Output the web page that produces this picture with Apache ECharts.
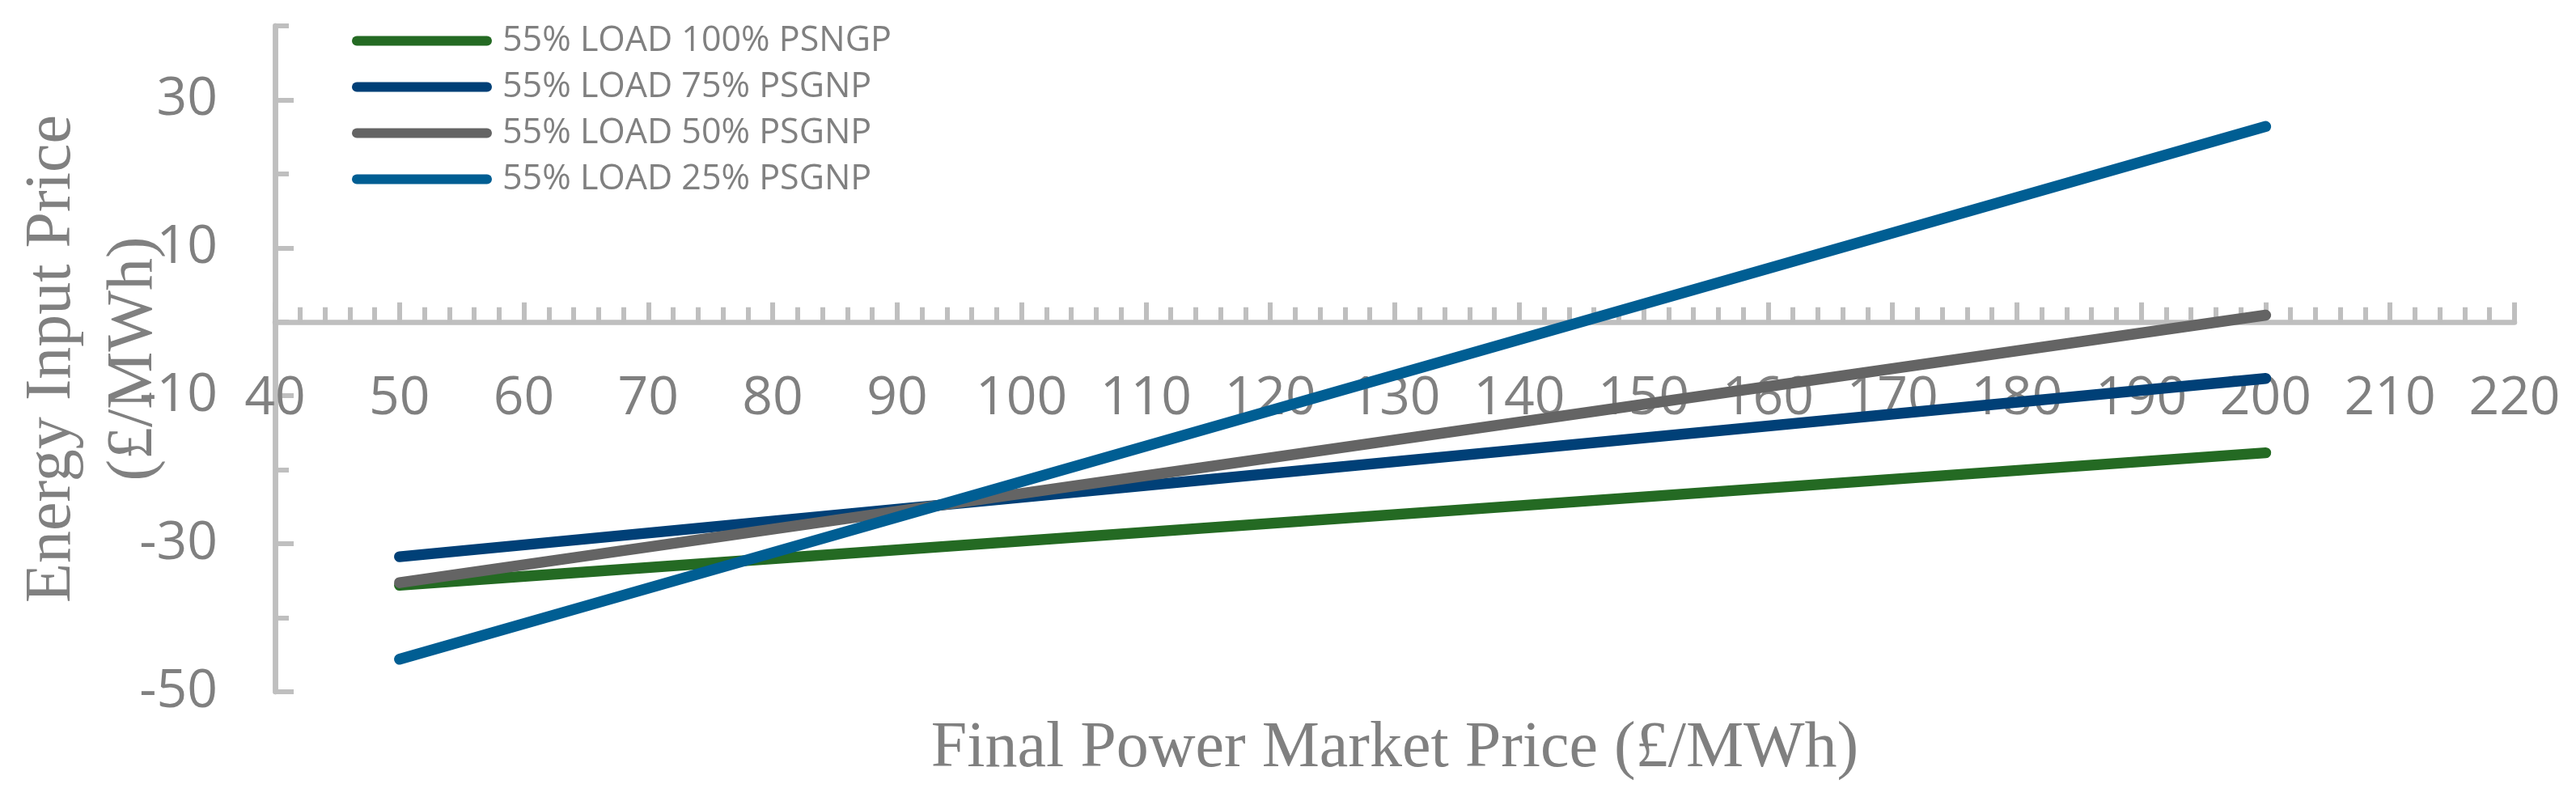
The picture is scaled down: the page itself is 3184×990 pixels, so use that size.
<!DOCTYPE html>
<html>
<head>
<meta charset="utf-8">
<script src="https://cdn.jsdelivr.net/npm/echarts@6/dist/echarts.min.js"></script>
<style>
html,body{margin:0;padding:0;background:#fff;}
#chart{width:3184px;height:990px;}
</style>
</head>
<body>
<div id="chart"></div>
<script>
// Data
const xValues = [50, 200];
const load100 = [-35.6, -17.7];
const load75 = [-31.75, -7.65];
const load50 = [-35.25, 0.9];
const load25 = [-45.6, 26.4];
const seriesNames = ['55% LOAD 100% PSNGP', '55% LOAD 75% PSGNP', '55% LOAD 50% PSGNP', '55% LOAD 25% PSGNP'];
const seriesColors = ['#246A23', '#004077', '#646464', '#005E93'];
const yLabelValues = [-50, -30, -10, 10, 30];
const xTitle = 'Final Power Market Price (£/MWh)';
const yTitle = 'Energy Input Price\n(£/MWh)';

const axisGrey = '#bfbfbf';
const textGrey = '#808080';

function pairs(ys) { return xValues.map((x, i) => [x, ys[i]]); }
const allSeries = [load100, load75, load50, load25];

const chart = echarts.init(document.getElementById('chart'), null, {renderer: 'canvas'});
chart.setOption({
  animation: false,
  backgroundColor: '#fff',
  grid: {left: 340, right: 76, top: 32, bottom: 135, containLabel: false, outerBoundsMode: 'none'},
  legend: {
    orient: 'vertical',
    left: 430,
    top: 24,
    itemWidth: 173,
    itemHeight: 12,
    itemGap: 14,
    icon: 'path://M6,0 L167,0 A6,6 0 0 1 167,12 L6,12 A6,6 0 0 1 6,0 Z',
    textStyle: {fontFamily: 'Open Sans', fontSize: 43, color: textGrey, lineHeight: 43, padding: [0, 0, 0, 8]},
    data: seriesNames
  },
  xAxis: {
    type: 'value', min: 40, max: 220, interval: 10,
    axisLine: {onZero: true, lineStyle: {color: axisGrey, width: 6.5}},
    axisTick: {show: true, inside: true, length: 24, lineStyle: {color: axisGrey, width: 6}},
    minorTick: {show: true, splitNumber: 5, length: 18, lineStyle: {color: axisGrey, width: 6}},
    splitLine: {show: false},
    axisLabel: {margin: -395, fontFamily: 'Open Sans', fontSize: 66, color: textGrey},
    name: xTitle, nameLocation: 'middle', nameGap: 31,
    nameTextStyle: {fontFamily: 'Liberation Serif', fontSize: 80, color: textGrey}
  },
  yAxis: [
    {
      type: 'value', min: -50, max: 40, interval: 10, position: 'left',
      axisLine: {show: true, lineStyle: {color: axisGrey, width: 6.5}},
      axisTick: {show: true, inside: true, length: 17, lineStyle: {color: axisGrey, width: 6}},
      axisLabel: {show: false},
      splitLine: {show: false},
      name: yTitle, nameLocation: 'middle', nameRotate: 90, nameGap: 124,
      nameTextStyle: {fontFamily: 'Liberation Serif', fontSize: 80, color: textGrey, lineHeight: 101}
    },
    {
      type: 'value', min: -50, max: 40, interval: 10, position: 'left', offset: 0,
      axisLine: {show: true, lineStyle: {color: axisGrey, width: 6.5}},
      axisTick: {show: true, inside: true, length: 23, customValues: yLabelValues, lineStyle: {color: axisGrey, width: 6}},
      axisLabel: {show: true, customValues: yLabelValues, margin: 71, fontFamily: 'Open Sans', fontSize: 66, color: textGrey},
      splitLine: {show: false}
    }
  ],
  series: allSeries.map((ys, i) => ({
    name: seriesNames[i],
    type: 'line',
    yAxisIndex: 0,
    data: pairs(ys),
    symbol: 'none',
    color: seriesColors[i],
    lineStyle: {color: seriesColors[i], width: 13.5, cap: 'round'}
  }))
});
</script>
</body>
</html>
